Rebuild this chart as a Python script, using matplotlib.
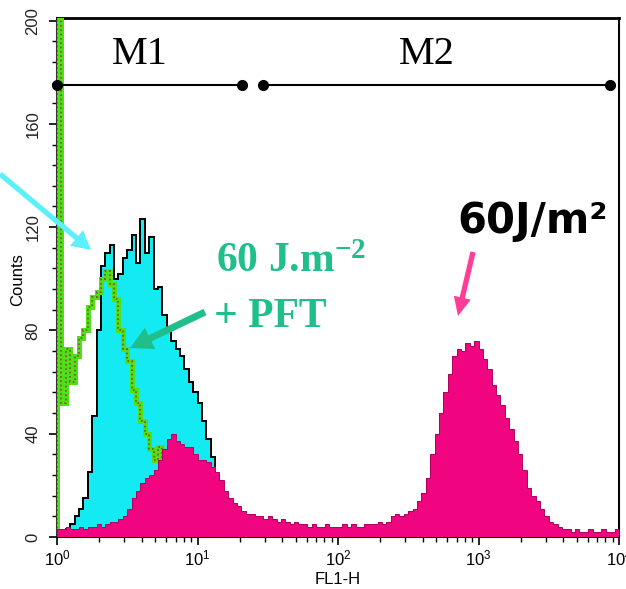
import numpy as np
import matplotlib
matplotlib.use("Agg")
import matplotlib.pyplot as plt
from matplotlib.ticker import FixedLocator, LogLocator, NullFormatter, LogFormatterSciNotation

# ---------------- data ----------------
bins_per_decade = 32
n_decades = 4

# counts per log channel (32 channels per decade)
magenta_counts = [3, 3, 4, 3, 3, 4, 3, 4, 4, 5, 4, 5, 6,
                  6, 7, 8,
                  11, 15, 18, 21, 23, 24, 26, 30, 34, 38, 40, 37, 36, 35, 35, 32,
                  30, 30, 29, 27, 25, 22, 18, 15, 13, 12, 10, 9, 9, 8, 8, 7,
                  8, 7, 6, 7, 6, 5, 6, 5, 5, 4, 5, 4, 4, 5, 4, 4,
                  4, 5, 4, 5, 4, 4, 5, 5, 5, 6, 5, 6, 8, 9, 8, 9,
                  10, 11, 14, 17, 23, 32, 40, 48, 56, 63, 70, 73, 72, 75, 74, 76,
                  73, 69, 65, 59, 55, 51, 46, 42, 37, 32, 26, 19, 16, 14, 11, 8,
                  6, 5, 4, 3, 3, 2, 3, 2, 2, 3, 2, 2, 3, 2, 2, 3]

cyan_counts = [0, 1, 3, 5, 8, 11, 15, 25, 47, 80, 105, 110,
               113, 100, 102, 108, 111, 117, 106, 123, 110, 116, 96, 97, 86, 80,
               76, 73, 70, 65, 60, 56, 52, 45, 38, 31, 24, 17, 10, 5, 2, 1]

green_counts = [250, 52, 73, 60, 70, 77, 80, 89, 93, 95, 100, 103, 98, 92, 80, 73,
                68, 57, 52, 45, 40, 34, 30, 35, 28, 22, 16, 12, 8, 5, 3, 2,
                2, 1, 1, 1, 0, 0, 0, 0]

gate_level = 175
gate_m1 = [1.0, 20.7]
gate_m2 = [29.3, 8630]
gate_labels = ["M1", "M2"]
gate_label_x = [3.9, 430]
gate_label_y = 187

y_ticks = [0, 40, 80, 120, 160, 200]
x_ticks = [1, 10, 100, 1000, 10000]

# ---------------- style ----------------
W, H, DPI = 626, 589, 100
CYAN = "#14eaf2"
MAGENTA = "#f0047f"
GREEN = "#4fe01a"
TEAL = "#1fbf8c"

plt.rcParams["font.family"] = ["Liberation Sans", "DejaVu Sans"]
plt.rcParams["mathtext.default"] = "regular"

fig = plt.figure(figsize=(W / DPI, H / DPI), dpi=DPI)
fig.patch.set_facecolor("white")

L, R, T, B = 57, 619, 18, 537
ax = fig.add_axes([L / W, 1 - B / H, (R - L) / W, (B - T) / H])
ax.set_xscale("log")
ax.set_xlim(1, 1e4)
ax.set_ylim(0, 201)

edges = np.logspace(0, n_decades, bins_per_decade * n_decades + 1)

# cyan histogram (filled, black outline)
ce = edges[:len(cyan_counts) + 1]
ax.stairs(cyan_counts, ce, fill=True, color=CYAN, zorder=2)
ax.stairs(cyan_counts, ce, color="black", lw=1.4, zorder=3)

# green histogram (outline, textured)
ge = edges[:len(green_counts) + 1]
ax.stairs(green_counts, ge, color=GREEN, lw=3.6, zorder=4)
ax.stairs(green_counts, ge, color="#7a5520", lw=1.2, ls=(0, (1, 1.6)), zorder=5)

# magenta histogram (filled)
ax.stairs(magenta_counts, edges, fill=True, color=MAGENTA, zorder=6)
ax.stairs(magenta_counts, edges, color="#b0005c", lw=0.7, zorder=6)

# gates
for rng in (gate_m1, gate_m2):
    ax.plot(rng, [gate_level, gate_level], color="black", lw=1.5, zorder=7,
            marker="o", ms=7, mfc="black", mec="black", clip_on=False)
for lab, gx in zip(gate_labels, gate_label_x):
    ax.text(gx, gate_label_y, lab, ha="center", va="center", fontsize=29,
            family="Liberation Serif", zorder=8)

# axes styling
for s in ax.spines.values():
    s.set_color("black")
    s.set_linewidth(1.5)
ax.spines["top"].set_linewidth(2)
ax.spines["left"].set_color("#333333")

ax.xaxis.set_major_locator(FixedLocator(x_ticks))
ax.xaxis.set_major_formatter(LogFormatterSciNotation())
ax.xaxis.set_minor_locator(LogLocator(base=10, subs=np.arange(2, 10)))
ax.xaxis.set_minor_formatter(NullFormatter())
ax.yaxis.set_major_locator(FixedLocator(y_ticks))
ax.yaxis.set_minor_locator(FixedLocator(np.arange(0, 201, 8)))
ax.tick_params(axis="both", which="major", direction="out", length=6, width=1.2,
               labelsize=12, color="black")
ax.tick_params(axis="both", which="minor", direction="out", length=3.5, width=1.0)
ax.tick_params(axis="x", pad=2)
ax.tick_params(axis="y", pad=6)
for lbl in ax.get_yticklabels():
    lbl.set_rotation(90)
    lbl.set_va("center")
    lbl.set_color("#222222")

ax.set_xlabel("FL1-H", fontsize=12)
ax.xaxis.set_label_coords((338 - L) / (R - L), -(580 - B) / (B - T), transform=ax.transAxes)
ax.xaxis.label.set_va("center")
ax.set_ylabel("Counts", fontsize=12)
ax.yaxis.set_label_coords(-(57 - 18) / (R - L), (B - 280) / (B - T))
ax.yaxis.label.set_va("center")


def fxy(px, py):
    return (px / W, 1 - py / H)


def arrow(tail, tip, color, tw, hw, hl):
    ax.annotate("", xy=fxy(*tip), xytext=fxy(*tail),
                xycoords="figure fraction", textcoords="figure fraction",
                arrowprops=dict(arrowstyle=f"simple,head_length={hl},head_width={hw},tail_width={tw}",
                                color=color, mutation_scale=10, shrinkA=0, shrinkB=0, lw=0),
                annotation_clip=False, zorder=10)


# annotations
arrow((0, 174), (91, 250), "#5cf0fa", 0.38, 1.45, 1.35)
arrow((205, 312), (130, 348), TEAL, 0.5, 1.7, 1.6)
arrow((473, 252), (458, 316), "#ff3d96", 0.38, 1.25, 1.35)

fig.text(*fxy(216, 272), "60 J.m$^{\\mathregular{-2}}$", color=TEAL, fontsize=30,
         family="Liberation Serif", weight="bold", ha="left", va="baseline", zorder=11)
fig.text(*fxy(214, 327), "+ PFT", color=TEAL, fontsize=30,
         family="Liberation Serif", weight="bold", ha="left", va="baseline", zorder=11)
fig.text(*fxy(457, 233), "60J/m²", color="black", fontsize=30,
         family="DejaVu Sans", weight="bold", ha="left", va="baseline", zorder=11)

fig.savefig("out.png", dpi=DPI, facecolor="white")
